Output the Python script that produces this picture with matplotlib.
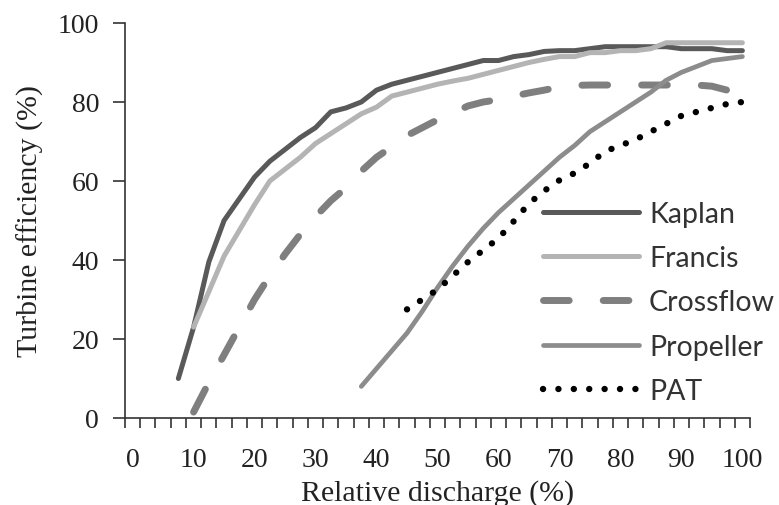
import numpy as np
import matplotlib.pyplot as plt
from matplotlib.ticker import MultipleLocator, FixedLocator

# relative discharge (%) and turbine efficiency (%) for each turbine type
kaplan_q = [7.5, 10, 12.5, 15, 17.5, 20, 22.5, 25, 27.5, 30, 32.5, 35, 37.5, 40, 42.5,
            45, 47.5, 50, 52.5, 55, 57.5, 60, 62.5, 65, 67.5, 70, 72.5, 75, 77.5, 80,
            82.5, 85, 87.5, 90, 92.5, 95, 97.5, 100]
kaplan_eff = [10, 23, 39.5, 50, 55.5, 61, 65, 68, 71, 73.5, 77.5, 78.5, 80, 83, 84.5,
              85.5, 86.5, 87.5, 88.5, 89.5, 90.5, 90.5, 91.5, 92, 92.8, 93, 93, 93.5, 94, 94,
              94, 94, 94, 93.5, 93.5, 93.5, 93, 93]

francis_q = [10, 12.5, 15, 17.5, 20, 22.5, 25, 27.5, 30, 32.5, 35, 37.5, 40, 42.5,
             45, 47.5, 50, 52.5, 55, 57.5, 60, 62.5, 65, 67.5, 70, 72.5, 75, 77.5, 80,
             82.5, 85, 87.5, 90, 92.5, 95, 97.5, 100]
francis_eff = [23, 32, 41, 47.5, 54, 60, 63, 66, 69.5, 72, 74.5, 77, 78.7, 81.5,
               82.5, 83.5, 84.5, 85.3, 86, 87, 88, 89, 90, 90.8, 91.5, 91.5, 92.5, 92.5, 93,
               93, 93.5, 95, 95, 95, 95, 95, 95]

crossflow_q = [10, 12.5, 15, 17.5, 20, 22.5, 25, 27.5, 30, 32.5, 35, 37.5, 40, 42.5,
               45, 47.5, 50, 52.5, 55, 57.5, 60, 62.5, 65, 67.5, 70, 72.5, 75, 77.5, 80,
               82.5, 85, 87.5, 90, 92.5, 95, 97.5, 100]
crossflow_eff = [1.5, 9, 16, 23, 30, 36, 41.5, 46.5, 51, 55, 58.3, 62.5, 66, 68.7,
                 71.5, 73.5, 75.5, 77.2, 79, 80, 80.6, 81.5, 82.3, 83, 83.8, 84.2, 84.3, 84.3, 84.3,
                 84.3, 84.3, 84.3, 84.3, 84.3, 84, 83, 82]

propeller_q = [37.5, 40, 42.5, 45, 47.5, 50, 52.5, 55, 57.5, 60, 62.5, 65, 67.5, 70,
               72.5, 75, 77.5, 80, 82.5, 85, 87.5, 90, 92.5, 95, 97.5, 100]
propeller_eff = [8, 12.5, 17, 21.5, 27, 33, 38.5, 43.5, 48, 52, 55.5, 59, 62.5, 66,
                 69, 72.5, 75, 77.5, 80, 82.5, 85.5, 87.5, 89, 90.5, 91, 91.5]

pat_q = [45, 47.5, 50, 52.5, 55, 57.5, 60, 62.5, 65, 67.5, 70, 72.5, 75, 77.5, 80,
         82.5, 85, 87.5, 90, 92.5, 95, 97.5, 100]
pat_eff = [27.5, 30, 32.5, 36, 39.5, 42.5, 45.5, 49.8, 54.3, 57.5, 60.2, 62, 64.5, 67.5, 69,
           70.5, 72.5, 74.5, 76.5, 77.5, 78.5, 79.5, 80]

x_ticks = [0, 10, 20, 30, 40, 50, 60, 70, 80, 90, 100]
y_ticks = [0, 20, 40, 60, 80, 100]

fig = plt.figure(figsize=(7.79, 5.06), dpi=100)
ax = fig.add_axes([125 / 779, 87 / 506, 625 / 779, 395 / 506])

ax.plot(kaplan_q, kaplan_eff, color='#595959', lw=3.6, solid_capstyle='round',
        solid_joinstyle='round', label='Kaplan')
ax.plot(francis_q, francis_eff, color='#b4b4b4', lw=3.6, solid_capstyle='round',
        solid_joinstyle='round', label='Francis')
ax.plot(crossflow_q, crossflow_eff, color='#7f7f7f', lw=5, dash_capstyle='round',
        linestyle=(0, (3.7, 4.9)), label='Crossflow')
ax.plot(propeller_q, propeller_eff, color='#8c8c8c', lw=3.4, solid_capstyle='round',
        solid_joinstyle='round', label='Propeller')
ax.plot(pat_q, pat_eff, color='black', lw=4.6, dash_capstyle='round',
        linestyle=(0, (0.01, 2.4)), label='PAT')

ax.set_xlim(-1.25, 101.25)
ax.set_ylim(0, 100)

for side in ['top', 'right']:
    ax.spines[side].set_visible(False)
for side in ['left', 'bottom']:
    ax.spines[side].set_color('#333333')
    ax.spines[side].set_linewidth(1.2)

serif = 'Liberation Serif'
ax.xaxis.set_major_locator(FixedLocator(x_ticks))
ax.xaxis.set_minor_locator(MultipleLocator(2.5, offset=1.25))
ax.set_xticklabels([str(v) for v in x_ticks], family=serif, fontsize=20, color='#222222')
ax.tick_params(axis='x', which='major', length=0, pad=21)
ax.tick_params(axis='x', which='minor', length=7, width=1.2, color='#333333', direction='out')

ax.yaxis.set_major_locator(FixedLocator(y_ticks))
ax.set_yticklabels([str(v) for v in y_ticks], family=serif, fontsize=20, color='#222222')
ax.tick_params(axis='y', which='major', length=8.6, width=1.2, color='#333333',
               direction='out', pad=10)

ax.set_xlabel('Relative discharge (%)', family=serif, fontsize=21.5, color='#222222', labelpad=5)
ax.set_ylabel('Turbine efficiency (%)', family=serif, fontsize=21.5, color='#222222', labelpad=10)

leg = ax.legend(loc='upper left', bbox_to_anchor=(543 / 779, 1 - 202 / 506),
                bbox_transform=fig.transFigure, frameon=False, borderpad=0,
                borderaxespad=0, handlelength=3.37, handletextpad=0.35,
                labelspacing=0.64, prop={'family': 'Lato', 'size': 20.5})
for t in leg.get_texts():
    t.set_color('#333333')

fig.savefig('out.png', dpi=100)
